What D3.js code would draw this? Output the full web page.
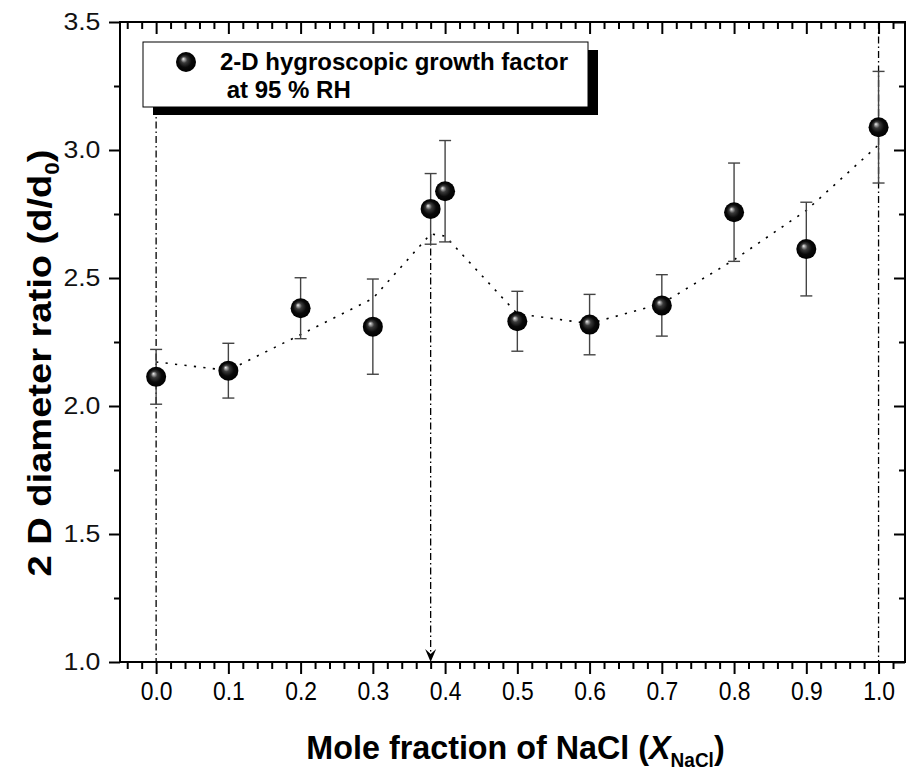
<!DOCTYPE html>
<html>
<head>
<meta charset="utf-8">
<script src="https://cdn.jsdelivr.net/npm/d3@7"></script>
<style>
  html, body { margin: 0; padding: 0; background: #fff; }
  svg { display: block; font-family: "Liberation Sans", Arial, Helvetica, sans-serif; }
</style>
</head>
<body>
<svg id="chart" width="906" height="770"></svg>
<script>
// ---- data ----
const moleFraction = [0.0, 0.1, 0.2, 0.3, 0.38, 0.4, 0.5, 0.6, 0.7, 0.8, 0.9, 1.0];
const growthFactor = [2.114, 2.138, 2.382, 2.310, 2.770, 2.839, 2.331, 2.318, 2.393, 2.757, 2.613, 3.089];
const growthError  = [0.107, 0.107, 0.119, 0.186, 0.138, 0.198, 0.117, 0.118, 0.120, 0.192, 0.183, 0.218];
const trendValues  = [2.172, 2.139, 2.279, 2.420, 2.672, 2.664, 2.360, 2.322, 2.400, 2.571, 2.764, 3.020];
const xMajorTicks = [0.0, 0.1, 0.2, 0.3, 0.4, 0.5, 0.6, 0.7, 0.8, 0.9, 1.0];
const xTickLabels = ["0.0", "0.1", "0.2", "0.3", "0.4", "0.5", "0.6", "0.7", "0.8", "0.9", "1.0"];
const yMajorTicks = [1.0, 1.5, 2.0, 2.5, 3.0, 3.5];
const yTickLabels = ["1.0", "1.5", "2.0", "2.5", "3.0", "3.5"];
const markerLines = [0.0, 1.0];     // dash-dot verticals
const arrowAt = 0.38;               // dash-dot arrow
const legendLines = ["2-D hygroscopic growth factor", " at 95 % RH"];

const svg = d3.select("#chart");
const L = 120, R = 905, T = 22, B = 662;

const x = d3.scaleLinear().domain([-0.05, 1.0366]).range([L, R]);
const y = d3.scaleLinear().domain([1.0, 3.5]).range([B, T]);

const xMinor = d3.range(-2, 52).filter(i => i % 5 !== 0).map(i => +(i * 0.02).toFixed(2));
const yMinor = [1.25, 1.75, 2.25, 2.75, 3.25];

// defs: sphere gradient
const defs = svg.append("defs");
const grad = defs.append("radialGradient").attr("id", "sphere")
  .attr("cx", "50%").attr("cy", "50%").attr("r", "50%").attr("fx", "36%").attr("fy", "34%");
[["0%", "#f2f2f2"], ["12%", "#a8a8a8"], ["32%", "#3a3a3a"], ["65%", "#0a0a0a"], ["100%", "#000"]]
  .forEach(([o, c]) => grad.append("stop").attr("offset", o).attr("stop-color", c));

// ---- axes ----
function styleAxis(g) {
  g.select(".domain").remove();
  g.selectAll(".tick line").attr("stroke", "#000").attr("stroke-width", 2);
}
// bottom
svg.append("g").attr("transform", `translate(0,${B})`)
  .call(d3.axisBottom(x).tickValues(xMinor).tickSize(7).tickFormat(""))
  .call(styleAxis);
const bx = svg.append("g").attr("transform", `translate(0,${B})`)
  .call(d3.axisBottom(x).tickValues(xMajorTicks).tickSize(12).tickPadding(8)
        .tickFormat((d, i) => xTickLabels[i]))
  .call(styleAxis);
bx.selectAll(".tick text").attr("fill", "#000").attr("font-size", 26)
  .attr("transform", "scale(0.88,1)");
// top
svg.append("g").attr("transform", `translate(0,${T})`)
  .call(d3.axisBottom(x).tickValues(xMinor).tickSize(7).tickFormat(""))
  .call(styleAxis);
svg.append("g").attr("transform", `translate(0,${T})`)
  .call(d3.axisBottom(x).tickValues(xMajorTicks).tickSize(12).tickFormat(""))
  .call(styleAxis);
// left
svg.append("g").attr("transform", `translate(${L},0)`)
  .call(d3.axisLeft(y).tickValues(yMinor).tickSize(6).tickFormat(""))
  .call(styleAxis);
const ly = svg.append("g").attr("transform", `translate(${L},0)`)
  .call(d3.axisLeft(y).tickValues(yMajorTicks).tickSize(11).tickPadding(5)
        .tickFormat((d, i) => yTickLabels[i]))
  .call(styleAxis);
ly.selectAll(".tick text").attr("fill", "#111").attr("font-size", 23)
  .attr("transform", "translate(-1,0) scale(1.16,1)");
// right
svg.append("g").attr("transform", `translate(${R},0)`)
  .call(d3.axisLeft(y).tickValues(yMinor).tickSize(6).tickFormat(""))
  .call(styleAxis);
svg.append("g").attr("transform", `translate(${R},0)`)
  .call(d3.axisLeft(y).tickValues(yMajorTicks).tickSize(11).tickFormat(""))
  .call(styleAxis);

// frame
svg.append("rect").attr("x", L).attr("y", T).attr("width", R - L).attr("height", B - T)
  .attr("fill", "none").attr("stroke", "#000").attr("stroke-width", 2);

// ---- vertical dash-dot lines ----
const legendBox = { x: 143, y: 42, w: 445, h: 65 };
const dashDot = "7,3,1.5,3";
markerLines.forEach(v => {
  svg.append("line")
    .attr("x1", x(v)).attr("x2", x(v))
    .attr("y1", v === 0 ? legendBox.y + legendBox.h : T).attr("y2", B)
    .attr("stroke", "#000").attr("stroke-width", 1.3).attr("stroke-dasharray", dashDot);
});
const arrowIdx = moleFraction.indexOf(arrowAt);
svg.append("line")
  .attr("x1", x(arrowAt)).attr("x2", x(arrowAt))
  .attr("y1", y(trendValues[arrowIdx])).attr("y2", B - 6)
  .attr("stroke", "#000").attr("stroke-width", 1.3).attr("stroke-dasharray", dashDot);
svg.append("path")
  .attr("d", `M${x(arrowAt)},${B} L${x(arrowAt) - 5.5},${B - 13} L${x(arrowAt)},${B - 8} L${x(arrowAt) + 5.5},${B - 13} Z`)
  .attr("fill", "#000");

// ---- dotted trend line ----
svg.append("path")
  .datum(moleFraction.map((m, i) => [m, trendValues[i]]))
  .attr("d", d3.line().x(d => x(d[0])).y(d => y(d[1])))
  .attr("fill", "none").attr("stroke", "#000").attr("stroke-width", 1.6)
  .attr("stroke-dasharray", "2.2,7.3");

// ---- error bars ----
const eb = svg.append("g").attr("stroke", "#444").attr("stroke-width", 1.4);
moleFraction.forEach((m, i) => {
  const cx = x(m), y1 = y(growthFactor[i] + growthError[i]), y0 = y(growthFactor[i] - growthError[i]);
  eb.append("line").attr("x1", cx).attr("x2", cx).attr("y1", y1).attr("y2", y0);
  eb.append("line").attr("x1", cx - 6).attr("x2", cx + 6).attr("y1", y1).attr("y2", y1);
  eb.append("line").attr("x1", cx - 6).attr("x2", cx + 6).attr("y1", y0).attr("y2", y0);
});

// ---- points ----
svg.append("g").selectAll("circle").data(moleFraction).join("circle")
  .attr("cx", d => x(d)).attr("cy", (d, i) => y(growthFactor[i]))
  .attr("r", 10).attr("fill", "url(#sphere)");

// ---- legend ----
svg.append("rect").attr("x", legendBox.x + 10).attr("y", legendBox.y + 8)
  .attr("width", legendBox.w).attr("height", legendBox.h).attr("fill", "#000");
svg.append("rect").attr("x", legendBox.x).attr("y", legendBox.y)
  .attr("width", legendBox.w).attr("height", legendBox.h)
  .attr("fill", "#fff").attr("stroke", "#000").attr("stroke-width", 1);
svg.append("circle").attr("cx", 186).attr("cy", 62).attr("r", 10).attr("fill", "url(#sphere)");
svg.append("text").attr("x", 220).attr("y", 70).attr("font-size", 24).attr("font-weight", "bold")
  .attr("fill", "#000").text(legendLines[0]);
svg.append("text").attr("x", 220).attr("y", 98).attr("font-size", 24).attr("font-weight", "bold")
  .attr("fill", "#000").attr("xml:space", "preserve").style("white-space", "pre").text(legendLines[1]);

// ---- axis titles ----
const xt = svg.append("text").attr("text-anchor", "middle").attr("font-weight", "bold")
  .attr("font-size", 34).attr("fill", "#000")
  .attr("transform", `translate(${(L + R) / 2 + 3},759) scale(0.95,1)`);
xt.append("tspan").text("Mole fraction of NaCl (");
xt.append("tspan").attr("font-style", "italic").text("X");
xt.append("tspan").attr("font-size", 20).attr("dy", 8).text("NaCl");
xt.append("tspan").attr("dy", -8).text(")");

const yt = svg.append("text").attr("text-anchor", "middle").attr("font-weight", "bold")
  .attr("font-size", 34).attr("fill", "#000")
  .attr("transform", `translate(51,${(T + B) / 2 + 21}) rotate(-90) scale(1.12,1)`);
yt.append("tspan").text("2 D diameter ratio (d/d");
yt.append("tspan").attr("font-size", 20).attr("dy", 8).text("0");
yt.append("tspan").attr("dy", -8).text(")");
</script>
</body>
</html>
